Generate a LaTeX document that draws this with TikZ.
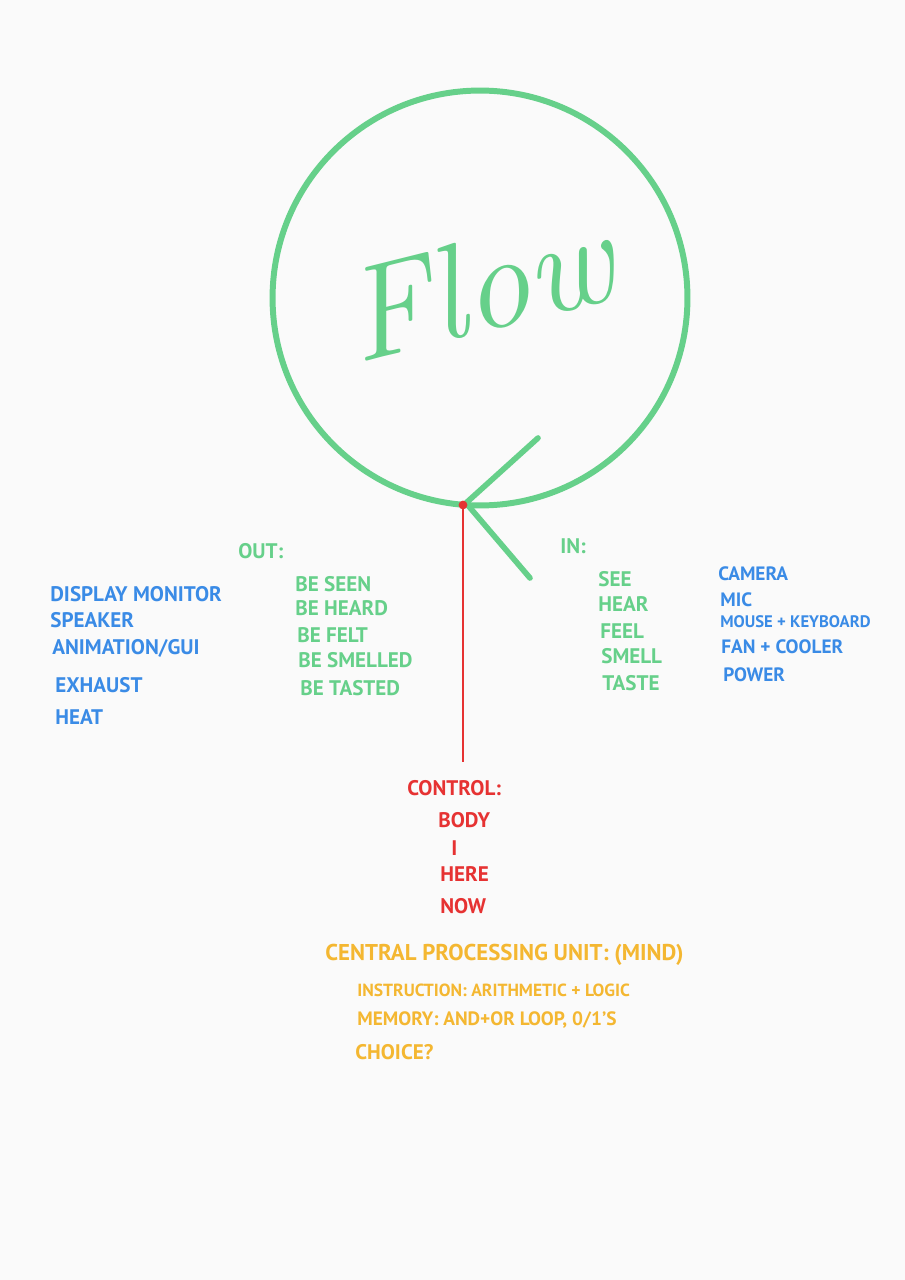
\documentclass[tikz,border=0pt]{standalone}
\usepackage{fontspec}
\setmainfont{PT Sans}
\newfontfamily\flowfont{Latin Modern Roman}
\usetikzlibrary{positioning}

\definecolor{flowgreen}{HTML}{66D08A}
\definecolor{flowblue}{HTML}{3A8BE6}
\definecolor{flowred}{HTML}{E63232}
\definecolor{flowyellow}{HTML}{F4B731}

\tikzset{
    hand/.style={inner sep=0pt, anchor=west, font=\fontsize{12}{12}\selectfont\bfseries},
    greentxt/.style={hand, text=flowgreen},
    bluetxt/.style={hand, text=flowblue},
    redtxt/.style={hand, text=flowred},
    yellowtxt/.style={hand, text=flowyellow}
}

\begin{document}
\begin{tikzpicture}[x=0.02cm, y=-0.02cm]
    % 画布
    \fill[white!98!black] (0, 0) rectangle (905, 1280);
    \useasboundingbox (0, 0) rectangle (905, 1280);

    % 大圆与标题
    \node[circle, draw=flowgreen, line width=3.4pt, minimum size=8.3cm, inner sep=0pt] (flow) at (480, 298) {};
    \node[text=flowgreen, rotate=14, font=\fontsize{76}{76}\flowfont\itshape] (title) at (478, 286) {Flow};

    % 箭头 (回到圆上)
    \coordinate (apex) at (466, 503);
    \coordinate (armup) at (538, 438);
    \coordinate (armdown) at (530, 578);
    \draw[flowgreen, line width=3.2pt, line cap=round, line join=round] (armup) -- (apex) -- (armdown);

    % 红点与控制线
    \node[circle, fill=flowred, inner sep=0pt, minimum size=5pt] (dot) at (463, 505) {};
    \coordinate (stem) at (463, 762);
    \draw[flowred, line width=1.3pt] (dot.center) -- (stem);

    % 输出
    \node[greentxt] (out) at (238, 551) {OUT:};
    \node[bluetxt] (display) at (50, 594) {DISPLAY MONITOR};
    \node[bluetxt] (speaker) at (50, 620) {SPEAKER};
    \node[bluetxt] (anim) at (52, 648) {ANIMATION/GUI};
    \node[bluetxt] (exhaust) at (55, 685) {EXHAUST};
    \node[bluetxt] (heat) at (55, 717) {HEAT};

    \node[greentxt] (seen) at (295, 584) {BE SEEN};
    \node[greentxt] (heard) at (295, 608) {BE HEARD};
    \node[greentxt] (felt) at (297, 635) {BE FELT};
    \node[greentxt] (smelled) at (298, 660) {BE SMELLED};
    \node[greentxt] (tasted) at (300, 688) {BE TASTED};

    % 输入
    \node[greentxt] (in) at (560, 546) {IN:};
    \node[greentxt] (see) at (598, 579) {SEE};
    \node[greentxt] (hear) at (598, 604) {HEAR};
    \node[greentxt] (feel) at (600, 631) {FEEL};
    \node[greentxt] (smell) at (601, 656) {SMELL};
    \node[greentxt] (taste) at (602, 683) {TASTE};

    \node[bluetxt, font=\fontsize{11}{11}\selectfont\bfseries] (camera) at (718, 574) {CAMERA};
    \node[bluetxt, font=\fontsize{11}{11}\selectfont\bfseries] (mic) at (720, 600) {MIC};
    \node[bluetxt, font=\fontsize{9.5}{10}\selectfont\bfseries] (mouse) at (720, 622) {MOUSE + KEYBOARD};
    \node[bluetxt, font=\fontsize{11}{11}\selectfont\bfseries] (fan) at (721, 647) {FAN + COOLER};
    \node[bluetxt, font=\fontsize{11}{11}\selectfont\bfseries] (power) at (723, 675) {POWER};

    % 控制
    \node[redtxt] (control) at (407, 788) {CONTROL:};
    \node[redtxt] (body) at (438, 820) {BODY};
    \node[redtxt] (self) at (451, 848) {I};
    \node[redtxt] (here) at (440, 874) {HERE};
    \node[redtxt] (now) at (440, 906) {NOW};

    % 中央处理器
    \node[yellowtxt, font=\fontsize{13}{13}\selectfont\bfseries] (cpu) at (325, 955) {CENTRAL PROCESSING UNIT: (MIND)};
    \node[yellowtxt, font=\fontsize{10}{10}\selectfont\bfseries] (instr) at (357, 990) {INSTRUCTION: ARITHMETIC + LOGIC};
    \node[yellowtxt, font=\fontsize{11}{11}\selectfont\bfseries] (memory) at (357, 1020) {MEMORY: AND+OR LOOP, 0/1'S};
    \node[yellowtxt] (choice) at (355, 1052) {CHOICE?};
\end{tikzpicture}
\end{document}
